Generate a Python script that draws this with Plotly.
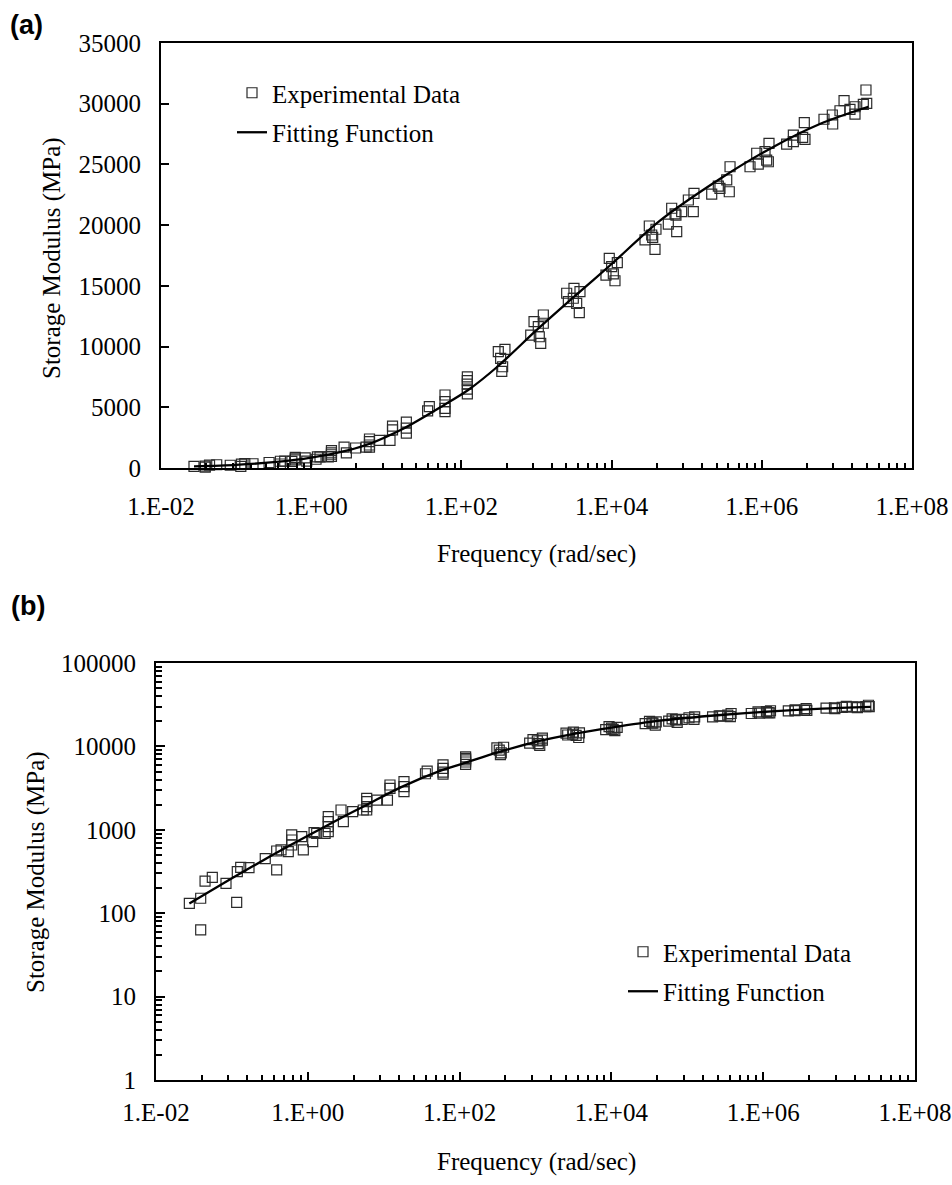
import plotly.graph_objects as go

# ---------------- data ----------------
freq = [
    0.0275, 0.0388, 0.0388, 0.0443, 0.0552, 0.0836, 0.1156, 0.1178, 0.1306, 0.168,
    0.275, 0.389, 0.389, 0.444, 0.553, 0.614, 0.614, 0.614, 0.832, 0.873,
    1.16, 1.21, 1.31, 1.69, 1.86, 1.86, 1.86, 1.86, 2.74, 2.94,
    3.90, 5.38, 5.97, 5.97, 5.97, 5.97, 8.09, 11.2, 12.1, 12.1,
    18.5, 18.5, 18.5, 35.5, 37.4, 60.5, 60.5, 60.5, 60.5,
    120, 120, 120, 120, 120,
    310, 333, 345, 354, 380,
    838, 927, 1057, 1089, 1138, 1233, 1233,
    2523, 2655, 3090, 3155, 3428, 3715, 3793,
    8414, 9311, 10023, 10544, 11092, 11912,
    27860, 31770, 34200, 35240, 37840, 38990,
    56890, 63100, 70000, 71940, 73620, 85700, 105200, 122400, 125000,
    215300, 263600, 277300, 341200, 369000, 377600,
    696600, 855000, 897000, 1104000, 1161000, 1222000, 1247000,
    2143000, 2630000, 2630000, 3499000, 3681000, 3758000,
    6730000, 8690000, 8790000, 10990000, 12450000, 14930000, 17420000, 17420000,
    22490000, 24380000, 24950000,
]
modulus = [
    131, 151, 63, 243, 269, 228, 135, 315, 355, 351,
    451, 330, 557, 573, 546, 867, 755, 657, 826, 573,
    720, 923, 908, 908, 1436, 1250, 1090, 949, 1727, 1250,
    1648, 1727, 2387, 2174, 1893, 1727, 2275, 2275, 3444, 3141,
    3776, 3289, 2864, 4700, 5050, 6010, 5460, 4910, 4640,
    7500, 7200, 6900, 6500, 6100,
    9580, 9030, 7950, 8340, 9770,
    10950, 12050, 11640, 10810, 10270, 12600, 11920,
    14390, 13700, 13980, 14800, 13560, 12790, 14520,
    15890, 17270, 16580, 15980, 15420, 16910,
    18780, 19930, 19190, 19000, 18010, 19660,
    20090, 21390, 20920, 20830, 19460, 21110, 22070, 21110, 22620,
    22560, 23220, 23030, 23720, 22750, 24810,
    24810, 25920, 25030, 26050, 25360, 25220, 26740,
    26680, 27420, 26870, 27230, 28440, 27070,
    28720, 29070, 28330, 29420, 30250, 29540, 29150, 29750,
    29950, 31130, 30030,
]

fit_freq = [0.0275, 0.1, 0.316, 1, 3.16, 6.03, 17, 57.5, 123, 309, 1000, 3090,
            10000, 43650, 275400, 1288000, 6026000, 26180000]
fit_modulus = [131, 262, 478, 850, 1480, 2000, 3250, 5150, 6420, 8400, 11350, 14050,
               16800, 20350, 23800, 26300, 28350, 29750]

x_tick_vals = [1e-2, 1e0, 1e2, 1e4, 1e6, 1e8]
x_tick_text = ["1.E-02", "1.E+00", "1.E+02", "1.E+04", "1.E+06", "1.E+08"]
x_minor_mult = [4, 9, 16, 25, 36, 49, 64, 81]

ya_tick_vals = [0, 5000, 10000, 15000, 20000, 25000, 30000, 35000]
ya_tick_text = ["0", "5000", "10000", "15000", "20000", "25000", "30000", "35000"]

yb_tick_vals = [1, 10, 100, 1000, 10000, 100000]
yb_tick_text = ["1", "10", "100", "1000", "10000", "100000"]

series_names = ["Experimental Data", "Fitting Function"]
x_title = "Frequency (rad/sec)"
y_title = "Storage Modulus (MPa)"

# ---------------- figure ----------------
W, H = 952, 1185
SERIF = "Liberation Serif, Times New Roman, serif"
FS = 25

x_minor_vals = [m * b for b in x_tick_vals[:-1] for m in x_minor_mult]
yb_minor_vals = [k * b for b in yb_tick_vals[:-1] for k in range(2, 10)]

marker = dict(symbol="square-open", size=10, color="#2a2a2a", line=dict(width=1.2, color="#2a2a2a"))
fitline = dict(color="black", width=2.3, shape="spline", smoothing=0.8)

fig = go.Figure()
for xa, ya, lg in (("x", "y", "legend"), ("x2", "y2", "legend2")):
    fig.add_trace(go.Scatter(x=freq, y=modulus, mode="markers", name=series_names[0],
                             marker=marker, xaxis=xa, yaxis=ya, legend=lg,
                             legendgroup=lg + "a", cliponaxis=False))
    fig.add_trace(go.Scatter(x=fit_freq, y=fit_modulus, mode="lines", name=series_names[1],
                             line=fitline, xaxis=xa, yaxis=ya, legend=lg,
                             legendgroup=lg + "b", cliponaxis=False))


def px_x(p):
    return p / W


def px_y(p):
    return 1 - p / H


axis_common = dict(showline=True, linecolor="black", linewidth=2, mirror=True,
                   showgrid=False, zeroline=False, ticks="inside", tickcolor="black",
                   tickwidth=1.5, automargin=False,
                   tickfont=dict(family=SERIF, size=FS, color="black"))

xminor = dict(tickmode="array", tickvals=x_minor_vals, ticks="inside", ticklen=5,
              tickwidth=1.5, tickcolor="black", showgrid=False)

fig.update_layout(
    width=W, height=H, margin=dict(l=0, r=0, t=0, b=0, autoexpand=False),
    paper_bgcolor="white", plot_bgcolor="white",
    font=dict(family=SERIF, size=FS, color="black"),
    xaxis=dict(type="log", range=[-2, 8], domain=[px_x(161), px_x(912)], anchor="y",
               tickmode="array", tickvals=x_tick_vals, ticktext=x_tick_text, ticklen=8,
               ticklabelstandoff=15, minor=xminor, **axis_common),
    yaxis=dict(range=[0, 35000], domain=[px_y(468), px_y(43)], anchor="x",
               tickmode="array", tickvals=ya_tick_vals, ticktext=ya_tick_text, ticklen=8,
               ticklabelstandoff=13, **axis_common),
    xaxis2=dict(type="log", range=[-2, 8], domain=[px_x(156), px_x(915)], anchor="y2",
                tickmode="array", tickvals=x_tick_vals, ticktext=x_tick_text, ticklen=8,
                ticklabelstandoff=9, minor=xminor, **axis_common),
    yaxis2=dict(type="log", range=[0, 5], domain=[px_y(1080), px_y(663)], anchor="x2",
                tickmode="array", tickvals=yb_tick_vals, ticktext=yb_tick_text, ticklen=9,
                ticklabelstandoff=13,
                minor=dict(tickmode="array", tickvals=yb_minor_vals, ticks="inside",
                           ticklen=6, tickwidth=1.5, tickcolor="black", showgrid=False),
                **axis_common),
    legend=dict(x=px_x(232), y=px_y(70), xanchor="left", yanchor="top",
                bgcolor="rgba(0,0,0,0)", borderwidth=0, traceorder="grouped",
                tracegroupgap=4, font=dict(family=SERIF, size=FS, color="black")),
    legend2=dict(x=px_x(623), y=px_y(929), xanchor="left", yanchor="top",
                 bgcolor="rgba(0,0,0,0)", borderwidth=0, traceorder="grouped",
                 tracegroupgap=4, font=dict(family=SERIF, size=FS, color="black")),
    showlegend=True,
)

annotations = [
    dict(text="(a)", x=px_x(26), y=px_y(25)),
    dict(text="(b)", x=px_x(28), y=px_y(606)),
]
for a in annotations:
    a.update(xref="paper", yref="paper", showarrow=False, xanchor="center", yanchor="middle",
             font=dict(family="Liberation Sans, Arial, sans-serif", size=27, color="black"))
    a["text"] = "<b>" + a["text"] + "</b>"

titles = [
    dict(text=x_title, x=px_x(536), y=px_y(554)),
    dict(text=x_title, x=px_x(536), y=px_y(1162)),
    dict(text=y_title, x=px_x(52), y=px_y(258), textangle=-90),
    dict(text=y_title, x=px_x(36), y=px_y(872), textangle=-90),
]
for a in titles:
    a.update(xref="paper", yref="paper", showarrow=False, xanchor="center", yanchor="middle",
             font=dict(family=SERIF, size=FS, color="black"))

fig.update_layout(annotations=annotations + titles)

# remove the default 8px page margin so the figure fills the window exactly
page_fix = ("document.body.style.margin='0';"
            "document.body.style.overflow='hidden';"
            "document.documentElement.style.overflow='hidden';")

fig.write_html("out.html", post_script=page_fix, config={"displayModeBar": False})
